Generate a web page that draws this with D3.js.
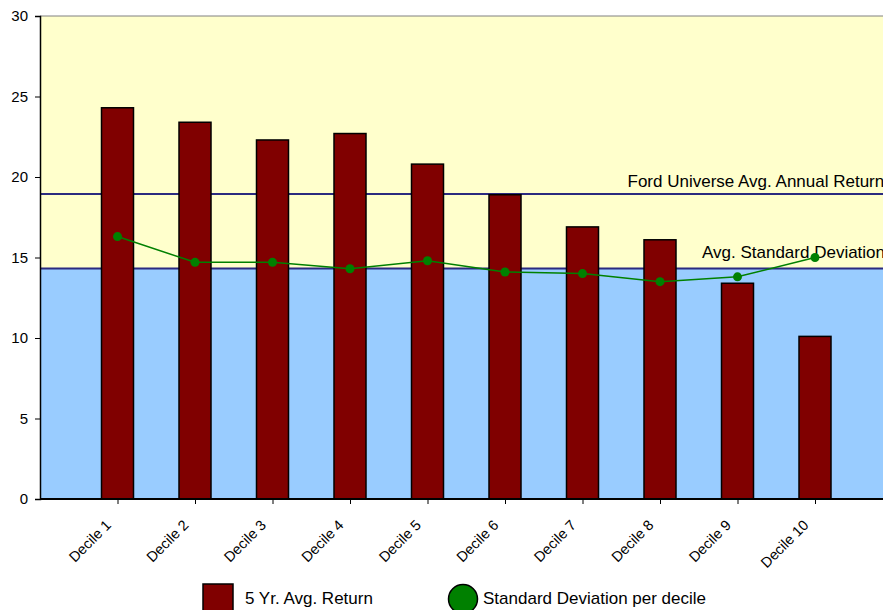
<!DOCTYPE html>
<html>
<head>
<meta charset="utf-8">
<script src="https://cdn.jsdelivr.net/npm/d3@7"></script>
<style>
  body { margin: 0; background: #fff; }
  text { font-family: "Liberation Sans", Arial, sans-serif; fill: #000; }
</style>
</head>
<body>
<svg id="chart"></svg>
<script>
let deciles = ["Decile 1", "Decile 2", "Decile 3", "Decile 4", "Decile 5",
               "Decile 6", "Decile 7", "Decile 8", "Decile 9", "Decile 10"]
let avgReturn = [24.3, 23.4, 22.3, 22.7, 20.8, 18.9, 16.9, 16.1, 13.4, 10.1]
let stdDev = [16.3, 14.7, 14.7, 14.3, 14.8, 14.1, 14.0, 13.5, 13.8, 15.0]
let fordAvgReturn = 18.94
let avgStdDev = 14.32
let yTicks = [0, 5, 10, 15, 20, 25, 30]

let width = 883
let height = 610
let plotLeft = 40
let plotTop = 16
let plotBottom = 499

let svg = d3.select("#chart").attr("width", width).attr("height", height)

let x = d3.scalePoint().domain(deciles).range([117.5, 815])
let y = d3.scaleLinear().domain([0, 30]).range([plotBottom, plotTop])
let barW = 32

// background bands split at the avg std deviation
svg.append("rect")
   .attr("x", plotLeft).attr("y", y(30))
   .attr("width", width - plotLeft).attr("height", y(avgStdDev) - y(30))
   .attr("fill", "#ffffcc")
svg.append("rect")
   .attr("x", plotLeft).attr("y", y(avgStdDev))
   .attr("width", width - plotLeft).attr("height", y(0) - y(avgStdDev))
   .attr("fill", "#99ccff")
svg.append("line")
   .attr("x1", plotLeft).attr("x2", width).attr("y1", y(30)).attr("y2", y(30))
   .attr("stroke", "#808080").attr("stroke-width", 1)

// reference lines
let refs = [
  { v: fordAvgReturn, label: "Ford Universe Avg. Annual Return", lx: 627.5, dy: -7 },
  { v: avgStdDev, label: "Avg. Standard Deviation", lx: 702, dy: -10 }
]
refs.forEach(r => {
  svg.append("line")
     .attr("x1", plotLeft).attr("x2", width)
     .attr("y1", y(r.v)).attr("y2", y(r.v))
     .attr("stroke", "#2b2b80").attr("stroke-width", 2)
})

// bars
svg.selectAll("rect.bar")
   .data(avgReturn)
   .enter()
   .append("rect")
   .attr("class", "bar")
   .attr("x", (d, i) => x(deciles[i]) - barW / 2)
   .attr("y", d => y(d))
   .attr("width", barW)
   .attr("height", d => y(0) - y(d))
   .attr("fill", "#800000")
   .attr("stroke", "#000")
   .attr("stroke-width", 1.5)

refs.forEach(r => {
  svg.append("text")
     .attr("x", r.lx).attr("y", y(r.v) + r.dy)
     .attr("font-size", 17)
     .text(r.label)
})

// std dev line
let line = d3.line()
  .x((d, i) => x(deciles[i]))
  .y(d => y(d))
svg.append("path")
   .datum(stdDev)
   .attr("d", line)
   .attr("fill", "none")
   .attr("stroke", "#008000")
   .attr("stroke-width", 1.5)
svg.selectAll("circle.pt")
   .data(stdDev)
   .enter()
   .append("circle")
   .attr("class", "pt")
   .attr("cx", (d, i) => x(deciles[i]))
   .attr("cy", d => y(d))
   .attr("r", 4.5)
   .attr("fill", "#008000")

// axes
let yAxis = svg.append("g")
   .attr("transform", `translate(${plotLeft},0)`)
   .call(d3.axisLeft(y).tickValues(yTicks).tickSize(5).tickPadding(7))
yAxis.select(".domain").attr("stroke", "#000").attr("stroke-width", 1.5)
yAxis.selectAll("text").attr("font-size", 15).attr("font-family", "Liberation Sans, Arial, sans-serif")

let xAxis = svg.append("g")
   .attr("transform", `translate(0,${plotBottom})`)
   .call(d3.axisBottom(x).tickSize(5).tickSizeOuter(0))
xAxis.select(".domain").attr("d", `M${plotLeft},0H${width}`).attr("stroke", "#000").attr("stroke-width", 2)
xAxis.selectAll("text")
   .attr("font-size", 14.5)
   .attr("font-family", "Liberation Sans, Arial, sans-serif")
   .attr("text-anchor", "end")
   .attr("x", 0).attr("y", 0).attr("dy", "0")
   .attr("transform", "translate(-6,27) rotate(-45)")

// legend
svg.append("rect")
   .attr("x", 203).attr("y", 584)
   .attr("width", 30).attr("height", 30)
   .attr("fill", "#800000").attr("stroke", "#000").attr("stroke-width", 1.5)
svg.append("text").attr("x", 245).attr("y", 604).attr("font-size", 17).text("5 Yr. Avg. Return")
svg.append("circle")
   .attr("cx", 463).attr("cy", 599).attr("r", 14.5)
   .attr("fill", "#008000").attr("stroke", "#000").attr("stroke-width", 1.5)
svg.append("text").attr("x", 483).attr("y", 604).attr("font-size", 17).text("Standard Deviation per decile")
</script>
</body>
</html>
